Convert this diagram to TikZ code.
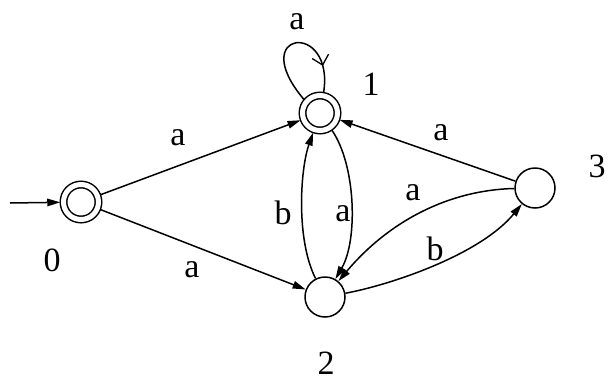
\documentclass[tikz,border=0pt]{standalone}
\usepackage{fontspec}
\setmainfont{Liberation Serif}
\usetikzlibrary{arrows.meta,decorations.markings}
\begin{document}
\begin{tikzpicture}[x=1pt,y=-1pt,
  line width=1.5pt,
  tip/.style={-{Triangle[length=13pt,width=7.5pt]}},
  accst/.style={circle,draw,double,double distance=5pt,minimum size=35pt,inner sep=0pt,outer sep=3.25pt},
  plainst/.style={circle,draw,minimum size=40pt,inner sep=0pt},
  lbl/.style={font=\fontsize{34}{34}\selectfont,inner sep=0pt}]
\useasboundingbox (0,0) rectangle (607,381);
\fill[white] (0,0) rectangle (607,381);
% states
\node[accst] (n0) at (81,202) {};
\node[accst] (n1) at (320,113) {};
\node[plainst] (n2) at (325,297) {};
\node[plainst] (n3) at (535,188) {};
\coordinate (init) at (10,203);
% state labels
\node[lbl] (l0) at (52,260) {0};
\node[lbl] (l1) at (371,84) {1};
\node[lbl] (l2) at (326,363) {2};
\node[lbl] (l3) at (597,166) {3};
% edges
\draw[tip] (init) -- (n0);
\draw[tip] (n0) -- (n1);
\draw[tip] (n0) -- (n2);
\draw[tip] (n3) -- (n1);
\draw[tip] (n2) .. controls (296,240) and (300,170) .. (n1);
\draw[tip] (n1) .. controls (356,165) and (358,240) .. (n2);
\draw[tip] (n3) .. controls (450,190) and (390,220) .. (n2);
\draw[tip] (n2) .. controls (390,285) and (480,255) .. (n3);
\draw[postaction={decorate},decoration={markings,mark=at position 0.8 with {\arrow[line width=1.3pt]{Straight Barb[length=9pt,width=17pt]}}}]
  (n1.140) .. controls (245,30) and (335,20) .. (n1.80);
% edge labels
\node[lbl] (la) at (297,22) {a};
\node[lbl] (a01) at (178,138) {a};
\node[lbl] (a02) at (192,270) {a};
\node[lbl] (b21) at (283,213) {b};
\node[lbl] (a12) at (343,214) {a};
\node[lbl] (a31) at (441,133) {a};
\node[lbl] (a32) at (413,193) {a};
\node[lbl] (b23) at (435,249) {b};
\end{tikzpicture}
\end{document}
